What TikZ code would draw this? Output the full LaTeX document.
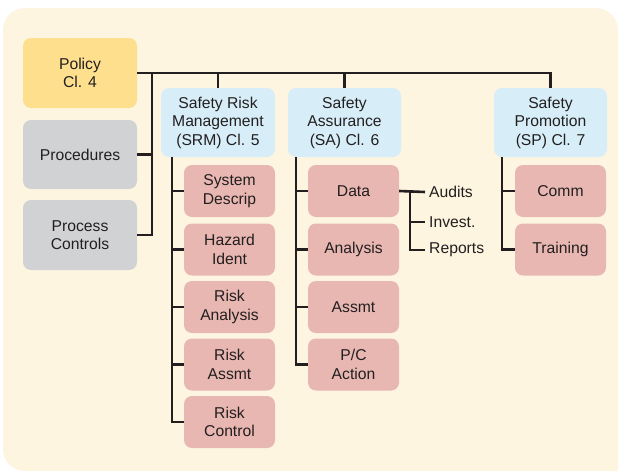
\documentclass[tikz,border=0pt]{standalone}
\usepackage{fontspec}
\setmainfont{Liberation Sans}
\definecolor{bgc}{HTML}{FDF5E0}
\definecolor{yelc}{HTML}{FDDF8E}
\definecolor{grayc}{HTML}{D1D2D4}
\definecolor{bluec}{HTML}{D7EEF8}
\definecolor{pinkc}{HTML}{E8B7B1}
\definecolor{linec}{HTML}{231F20}
\tikzset{
  box/.style={rounded corners=8pt, inner sep=0pt, align=center, text=linec,
    font=\fontsize{15.7}{18.5}\selectfont},
  bigbox/.style={box, minimum width=114pt, minimum height=69pt},
  childbox/.style={box, fill=pinkc, minimum width=91pt, minimum height=52pt},
  lbl/.style={anchor=west, inner sep=2pt, text=linec, font=\fontsize{15.7}{18.5}\selectfont},
  conn/.style={draw=linec, line width=2.6pt},
}
\begin{document}
\begin{tikzpicture}[x=1pt, y=-1pt]
\useasboundingbox (0,0) rectangle (618,472);
\fill[bgc] (618,471) [rounded corners=22pt] -- (3,471) -- (3,8) -- (618,8) [sharp corners] -- cycle;

% left column
\node[bigbox, fill=yelc, minimum height=70pt] (pol) at (80,73) {Policy\\Cl. 4};
\node[bigbox, fill=grayc] (proc) at (80,154.5) {Procedures};
\node[bigbox, fill=grayc, minimum height=70pt] (pc) at (80,235) {Process\\Controls};

% main headers
\node[bigbox, fill=bluec] (srm) at (218,122.5) {Safety Risk\\Management\\(SRM) Cl. 5};
\node[bigbox, fill=bluec, minimum width=113pt] (sa) at (344.5,122.5) {Safety\\Assurance\\(SA) Cl. 6};
\node[bigbox, fill=bluec, minimum width=113pt] (sp) at (550.5,122.5) {Safety\\Promotion\\(SP) Cl. 7};

% SRM children
\node[childbox] (sd) at (229.5,191) {System\\Descrip};
\node[childbox] (hi) at (229.5,249.5) {Hazard\\Ident};
\node[childbox] (ra) at (229.5,307) {Risk\\Analysis};
\node[childbox] (rs) at (229.5,364.5) {Risk\\Assmt};
\node[childbox] (rc) at (229.5,422) {Risk\\Control};

% SA children
\node[childbox] (data) at (353.5,191) {Data};
\node[childbox] (ana) at (353.5,249.5) {Analysis};
\node[childbox] (asm) at (353.5,307) {Assmt};
\node[childbox] (pca) at (353.5,364.5) {P/C\\Action};

% SP children
\node[childbox] (comm) at (560.5,191) {Comm};
\node[childbox] (trn) at (560.5,249.5) {Training};

% data labels
\node[lbl] (aud) at (425,192) {\hspace{2pt}Audits};
\node[lbl] (inv) at (425,222) {\hspace{2pt}Invest.};
\node[lbl] (rep) at (425,250) {\hspace{2pt}Reports};

% coordinates
\coordinate (spine) at (152,73);
\coordinate (srmsp) at (172,157);
\coordinate (sasp) at (296,157);
\coordinate (spsp) at (502,157);
\coordinate (dsub) at (410,192);

% connectors
\draw[conn] (pol.east) -| (sp.north);
\draw[conn] (srm.north) -- (srm.north |- pol.east);
\draw[conn] (sa.north) -- (sa.north |- pol.east);
\draw[conn] (spine) |- (pc.east);
\draw[conn] (proc.east) -- (proc.east -| spine);

\draw[conn] (srmsp) |- (rc.west);
\foreach \n in {sd,hi,ra,rs} \draw[conn] (\n.west) -- (\n.west -| srmsp);

\draw[conn] (sasp) |- (pca.west);
\foreach \n in {data,ana,asm} \draw[conn] (\n.west) -- (\n.west -| sasp);

\draw[conn] (spsp) |- (trn.west);
\draw[conn] (comm.west) -- (comm.west -| spsp);

\draw[conn] (data.east) -- (aud.west);
\draw[conn] (dsub) |- (rep.west);
\draw[conn] (inv.west) -- (inv.west -| dsub);
\end{tikzpicture}
\end{document}
